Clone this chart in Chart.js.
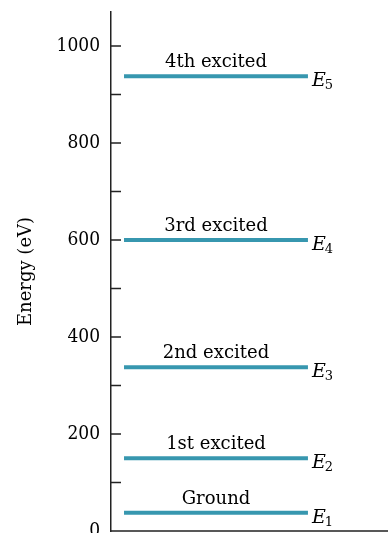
<!DOCTYPE html>
<html>
<head>
<meta charset="utf-8">
<script src="https://cdn.jsdelivr.net/npm/chart.js@4/dist/chart.umd.min.js"></script>
<style>
  html, body { margin: 0; padding: 0; background: #fff; }
  #wrap { width: 388px; height: 533px; }
</style>
</head>
<body>
<div id="wrap"><canvas id="levels" width="388" height="533"></canvas></div>
<script>
// energy levels (eV), particle in a box E_n
var levelNames = ["Ground", "1st excited", "2nd excited", "3rd excited", "4th excited"];
var levelEnergies = [37.5, 150, 337.5, 600, 937.5];
var levelSubscripts = ["1", "2", "3", "4", "5"];
var tickStep = 100;
var labelStep = 200;

var lineColor = "#3797af";
var serif = "'DejaVu Serif', serif";
var lineFrom = 0.047, lineTo = 0.711;   // horizontal extent of each level bar

var datasets = [];
for (var i = 0; i < levelEnergies.length; i++) {
    datasets.push({
        label: levelNames[i],
        data: [{x: lineFrom, y: levelEnergies[i]}, {x: lineTo, y: levelEnergies[i]}],
        borderColor: lineColor,
        borderWidth: 4,
        pointRadius: 0,
        fill: false
    });
}

var levelPlugin = {
    id: "levelPlugin",
    afterDraw: function(chart) {
        var c = chart.ctx;
        var area = chart.chartArea;
        var ys = chart.scales.y;
        c.save();
        // inside tick marks + bottom axis line
        c.strokeStyle = "#222";
        c.lineWidth = 1.5;
        c.beginPath();
        ys.ticks.forEach(function(t) {
            if (t.value % tickStep !== 0) return;
            var py = ys.getPixelForValue(t.value);
            c.moveTo(area.left, py);
            c.lineTo(area.left + 10, py);
        });
        c.moveTo(area.left, area.bottom);
        c.lineTo(area.right, area.bottom);
        c.stroke();

        // names above lines, E_n to the right
        c.fillStyle = "#000";
        chart.data.datasets.forEach(function(ds, i) {
            var pts = chart.getDatasetMeta(i).data;
            var x0 = pts[0].x, x1 = pts[1].x, py = pts[0].y;
            c.font = "18px " + serif;
            c.textAlign = "center";
            c.textBaseline = "alphabetic";
            c.fillText(levelNames[i], (x0 + x1) / 2, py - 9);
            c.textAlign = "left";
            c.font = "italic 19px " + serif;
            c.fillText("E", x1 + 4, py + 10);
            var w = c.measureText("E").width;
            c.font = "13px " + serif;
            c.fillText(levelSubscripts[i], x1 + 3 + w, py + 13);
        });
        c.restore();
    }
};

var chart = new Chart(document.getElementById("levels"), {
    type: "line",
    data: { datasets: datasets },
    options: {
        responsive: false,
        animation: false,
        layout: { padding: { top: 12, right: 0, bottom: 2, left: 0 } },
        plugins: { legend: { display: false }, tooltip: { enabled: false } },
        scales: {
            x: { type: "linear", min: 0, max: 1, display: false },
            y: {
                min: 0,
                max: 1070,
                grid: { display: false, drawTicks: false },
                border: { display: true, color: "#222", width: 1.5 },
                ticks: {
                    stepSize: tickStep,
                    autoSkip: false,
                    padding: 11,
                    color: "#000",
                    font: { family: "'DejaVu Serif Condensed', 'DejaVu Serif', serif", size: 19 },
                    callback: function(v) { return v % labelStep === 0 ? v : ""; }
                },
                title: {
                    display: true,
                    text: "Energy (eV)",
                    color: "#000",
                    font: { family: serif, size: 18 },
                    padding: { top: 16, bottom: 0 }
                },
                afterFit: function(s) {
                    s.width = 111;
                    s.paddingTop = 0;
                    s.paddingBottom = 0;
                }
            }
        }
    },
    plugins: [levelPlugin]
});
</script>
</body>
</html>
